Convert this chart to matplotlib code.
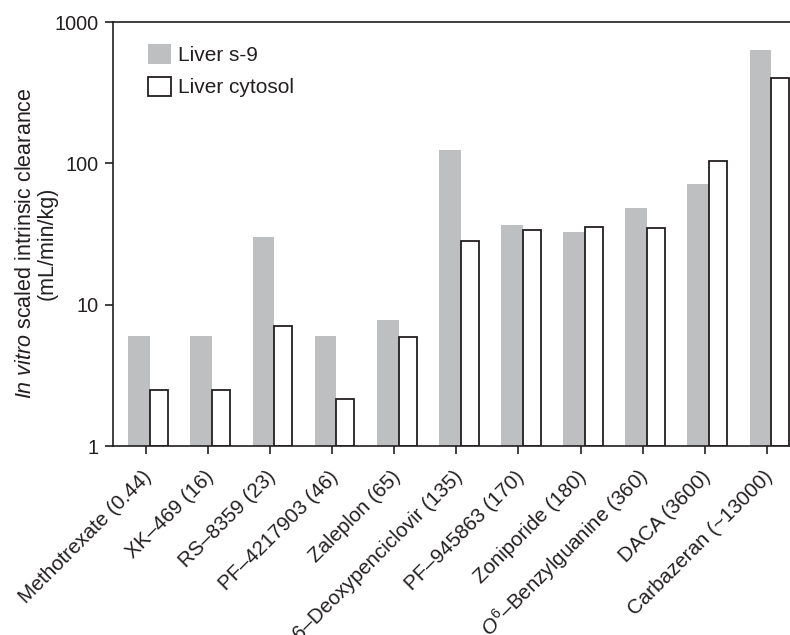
import matplotlib
matplotlib.use("Agg")
import matplotlib.pyplot as plt
import numpy as np
from matplotlib.transforms import ScaledTranslation

plt.rcParams['font.family'] = ['Liberation Sans', 'DejaVu Sans']
plt.rcParams['mathtext.fontset'] = 'custom'
plt.rcParams['mathtext.rm'] = 'Liberation Sans'
plt.rcParams['mathtext.it'] = 'Liberation Sans:italic'
plt.rcParams['mathtext.bf'] = 'Liberation Sans:bold'

compounds = [
    "Methotrexate (0.44)", "XK–469 (16)", "RS–8359 (23)", "PF–4217903 (46)",
    "Zaleplon (65)", "6–Deoxypenciclovir (135)", "PF–945863 (170)",
    "Zoniporide (180)", r"$\mathit{O}^{6}$–Benzylguanine (360)", "DACA (3600)",
    "Carbazeran (~13000)",
]
liver_s9 = [6.0, 6.0, 30.0, 6.0, 7.8, 124.0, 36.6, 32.7, 48.3, 71.5, 635.0]
liver_cytosol = [2.5, 2.5, 7.1, 2.15, 5.9, 28.4, 34.0, 35.3, 34.7, 104.0, 402.0]
yticks = [1, 10, 100, 1000]

ink = '#231f20'
grey = '#bebfc1'
base = 1.0  # bars grow from the bottom of the log axis

fig = plt.figure(figsize=(7.9, 6.35), dpi=100)
ax = fig.add_axes([113 / 790, 1 - 446 / 635, 1 - 113 / 790, (446 - 22) / 635])

x = np.arange(len(compounds))
ax.bar(x - 0.28, np.array(liver_s9) - base, width=0.35, bottom=base, align='edge',
       color=grey, edgecolor='none', label='Liver s-9')
ax.bar(x + 0.07, np.array(liver_cytosol) - base, width=0.29, bottom=base, align='edge',
       facecolor='white', edgecolor=ink, linewidth=1.3, label='Liver cytosol')

ax.set_yscale('log')
ax.set_ylim(1, 1000)
ax.set_xlim(-0.526, 10.37)
ax.set_yticks(yticks)
ax.set_yticklabels([str(v) for v in yticks])
ax.yaxis.set_minor_locator(matplotlib.ticker.NullLocator())

for s in ['left', 'top', 'bottom']:
    ax.spines[s].set_color(ink)
    ax.spines[s].set_linewidth(1.2)
ax.spines['right'].set_visible(False)

ax.tick_params(axis='y', direction='out', length=6, width=1.2, color=ink,
               labelsize=14.3, labelcolor=ink, pad=4)
ax.tick_params(axis='x', direction='out', length=6, width=1.2, color=ink,
               labelsize=14.8, labelcolor=ink, pad=14)

ax.set_xticks(x)
ax.set_xticklabels(compounds, rotation=45, ha='right', va='baseline',
                   rotation_mode='anchor')
shift = ScaledTranslation(7 / 100, -4 / 100, fig.dpi_scale_trans)
for lab in ax.get_xticklabels():
    lab.set_transform(lab.get_transform() + shift)

ax.set_ylabel(r"$\mathit{In\ vitro}$ scaled intrinsic clearance" + "\n(mL/min/kg)",
              fontsize=15.5, color=ink, linespacing=1.0)
ax.yaxis.set_label_coords(-0.082, 0.478)

leg = ax.legend(loc='upper left', bbox_to_anchor=(0.039, 0.967), frameon=False,
                fontsize=15, handlelength=1.12, handleheight=1.05,
                handletextpad=0.35, labelspacing=0.55, borderaxespad=0)
for t in leg.get_texts():
    t.set_color(ink)

fig.savefig('out.png', dpi=100)
